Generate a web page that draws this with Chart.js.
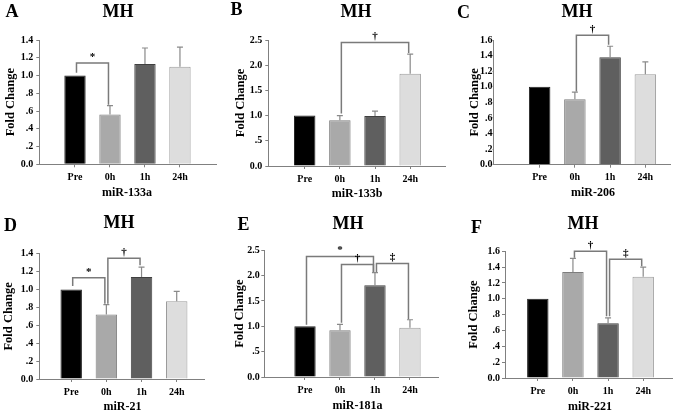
<!DOCTYPE html>
<html><head><meta charset="utf-8">
<script src="https://cdn.jsdelivr.net/npm/chart.js@4/dist/chart.umd.min.js"></script>
<style>
html,body{margin:0;padding:0;background:#fff;width:675px;height:414px;overflow:hidden;}
canvas.p{position:absolute;}
</style></head><body>
<script>
// ---------- DATA ----------
const categories = ['Pre', '0h', '1h', '24h'];
const letters = ['A', 'B', 'C', 'D', 'E', 'F'];
const panelTitle = 'MH';
const yAxisTitle = 'Fold Change';
const genes = ['miR-133a', 'miR-133b', 'miR-206', 'miR-21', 'miR-181a', 'miR-221'];

const meanA = [1.00, 0.56, 1.13, 1.10];
const errA  = [0, 0.10, 0.18, 0.22];
const meanB = [1.00, 0.91, 0.99, 1.83];
const errB  = [0, 0.09, 0.10, 0.39];
const meanC = [1.00, 0.84, 1.38, 1.16];
const errC  = [0, 0.09, 0.14, 0.16];
const meanD = [1.00, 0.72, 1.14, 0.87];
const errD  = [0, 0.11, 0.11, 0.11];
const meanE = [1.00, 0.92, 1.81, 0.97];
const errE  = [0, 0.12, 0.25, 0.16];
const meanF = [1.00, 1.34, 0.69, 1.28];
const errF  = [0, 0.17, 0.07, 0.12];

const ticks14 = ['0.0', '.2', '.4', '.6', '.8', '1.0', '1.2', '1.4'];
const ticks16 = ['0.0', '.2', '.4', '.6', '.8', '1.0', '1.2', '1.4', '1.6'];
const ticks25 = ['0.0', '.5', '1.0', '1.5', '2.0', '2.5'];

// significance brackets: [fromIndex, toIndex, level, leftLegEnd, rightLegEnd, symbol]
const sigA = [[0, 1, 1.14, 1.03, 0.67, '*']];
const sigB = [[1, 3, 2.45, 1.04, 2.24, '†']];
const sigC = [[1, 2, 1.66, 0.94, 1.54, '†']];
const sigD = [[0, 1, 1.13, 1.04, 0.84, '*'], [1, 2, 1.35, 0.84, 1.27, '†']];
const sigE = [[0, 2, 2.38, 1.03, 2.07, '*'], [1, 2, 2.22, 1.07, 2.07, '†'], [2, 3, 2.24, 2.07, 1.14, '‡']];
const sigF = [[1, 2, 1.60, 1.52, 0.78, '†'], [2, 3, 1.50, 0.78, 1.41, '‡']];

// ---------- STYLE / LAYOUT ----------
const barColors  = ['#000000', '#a9a9a9', '#5f5f5f', '#dddddd'];
const barBorders = ['#222222', '#7d7d7d', '#404040', '#9a9a9a'];
const FONT = "'Liberation Serif', 'Times New Roman', serif";
const axisColor = '#808080';

const panels = [
  {mean: meanA, err: errA, ticks: ticks14, ymax: 1.4, step: 0.2, sig: sigA, box: [0, 0],
   area: {l: 39.3, r: 216, t: 40, b: 164.3}, xmin: -0.02, xmax: 5.03, yPad: 3, yTick: 3,
   letterPos: [12, 12], titlePos: [118, 12], yTitleX: 11, xTitlePos: [127, 193]},
  {mean: meanB, err: errB, ticks: ticks25, ymax: 2.5, step: 0.5, sig: sigB, box: [225, 0],
   area: {l: 268.3, r: 445, t: 40, b: 166}, xmin: -0.035, xmax: 4.99, yPad: 3, yTick: 3,
   letterPos: [236.5, 10.5], titlePos: [356, 12.5], yTitleX: 241, xTitlePos: [357, 194]},
  {mean: meanC, err: errC, ticks: ticks16, ymax: 1.6, step: 0.2, sig: sigC, box: [450, 0],
   area: {l: 493.5, r: 670, t: 40, b: 164.7}, xmin: -0.31, xmax: 4.70, yPad: 0, yTick: 1,
   letterPos: [463.5, 13], titlePos: [577, 12.5], yTitleX: 474.5, xTitlePos: [593, 193]},
  {mean: meanD, err: errD, ticks: ticks14, ymax: 1.4, step: 0.2, sig: sigD, box: [0, 207],
   area: {l: 39.3, r: 204, t: 253.7, b: 379}, xmin: 0.093, xmax: 4.776, yPad: 3, yTick: 3,
   letterPos: [10.5, 226], titlePos: [119, 223], yTitleX: 8.5, xTitlePos: [122.5, 407]},
  {mean: meanE, err: errE, ticks: ticks25, ymax: 2.5, step: 0.5, sig: sigE, box: [225, 207],
   area: {l: 264.3, r: 438.3, t: 250.3, b: 377}, xmin: -0.163, xmax: 4.81, yPad: 1.5, yTick: 3,
   letterPos: [243.5, 225.5], titlePos: [348, 224.5], yTitleX: 239.5, xTitlePos: [357.5, 406]},
  {mean: meanF, err: errF, ticks: ticks16, ymax: 1.6, step: 0.2, sig: sigF, box: [450, 207],
   area: {l: 505, r: 672.7, t: 251.3, b: 378}, xmin: 0.066, xmax: 4.84, yPad: 2, yTick: 3,
   letterPos: [476.5, 228], titlePos: [583, 224.5], yTitleX: 474, xTitlePos: [590, 407]}
];

const W = 225, H = 207;

panels.forEach((p, k) => {
  const cv = document.createElement('canvas');
  cv.width = W; cv.height = H; cv.className = 'p';
  cv.style.left = p.box[0] + 'px'; cv.style.top = p.box[1] + 'px';
  cv.style.width = W + 'px'; cv.style.height = H + 'px';
  document.body.appendChild(cv);
  const L = p.area.l - p.box[0], R = p.area.r - p.box[0];
  const T = p.area.t - p.box[1], B = p.area.b - p.box[1];

  const deco = {
    id: 'deco' + k,
    afterDatasetsDraw(chart) {
      const ctx = chart.ctx, xs = chart.scales.x, ys = chart.scales.y;
      ctx.save();
      // error bars
      ctx.strokeStyle = '#8a8a8a'; ctx.lineWidth = 1.2;
      p.mean.forEach((m, i) => {
        if (!p.err[i]) return;
        const x = xs.getPixelForValue(i + 1);
        const y0 = ys.getPixelForValue(m), y1 = ys.getPixelForValue(m + p.err[i]);
        ctx.beginPath();
        ctx.moveTo(x, y0); ctx.lineTo(x, y1);
        ctx.moveTo(x - 3, y1); ctx.lineTo(x + 3, y1);
        ctx.stroke();
      });
      // significance brackets
      ctx.strokeStyle = '#7a7a7a'; ctx.lineWidth = 1.5;
      p.sig.forEach(s => {
        const xa = xs.getPixelForValue(s[0] + 1) + 1.5;
        const xb = xs.getPixelForValue(s[1] + 1) - 1.5;
        const yl = ys.getPixelForValue(s[2]);
        ctx.beginPath();
        ctx.moveTo(xa, ys.getPixelForValue(s[3]));
        ctx.lineTo(xa, yl); ctx.lineTo(xb, yl);
        ctx.lineTo(xb, ys.getPixelForValue(s[4]));
        ctx.stroke();
        ctx.fillStyle = '#000';
        ctx.font = 'bold 11px ' + FONT;
        ctx.textAlign = 'center'; ctx.textBaseline = 'bottom';
        ctx.fillText(s[5], (xa + xb) / 2, yl - 0.5);
      });
      ctx.restore();
    },
    afterDraw(chart) {
      const ctx = chart.ctx, ca = chart.chartArea;
      ctx.save();
      ctx.fillStyle = '#000';
      ctx.textAlign = 'center'; ctx.textBaseline = 'middle';
      ctx.font = 'bold 18px ' + FONT;
      ctx.fillText(letters[k], p.letterPos[0] - p.box[0], p.letterPos[1] - p.box[1]);
      ctx.fillText(panelTitle, p.titlePos[0] - p.box[0], p.titlePos[1] - p.box[1]);
      ctx.font = 'bold 12px ' + FONT;
      ctx.fillText(genes[k], p.xTitlePos[0] - p.box[0], p.xTitlePos[1] - p.box[1]);
      ctx.translate(p.yTitleX - p.box[0], (ca.top + ca.bottom) / 2);
      ctx.rotate(-Math.PI / 2);
      ctx.font = 'bold 12.5px ' + FONT;
      ctx.fillText(yAxisTitle, 0, 0);
      ctx.restore();
    }
  };

  new Chart(cv, {
    type: 'bar',
    data: {
      datasets: [{
        data: p.mean.map((v, i) => ({x: i + 1, y: v})),
        backgroundColor: barColors,
        borderColor: barBorders,
        borderWidth: 1,
        barPercentage: 0.61,
        categoryPercentage: 1
      }]
    },
    options: {
      responsive: false, animation: false, devicePixelRatio: 1,
      layout: {padding: {top: T, left: 0, right: W - R, bottom: 0}},
      plugins: {legend: {display: false}, tooltip: {enabled: false}, title: {display: false}},
      scales: {
        x: {
          type: 'linear', min: p.xmin, max: p.xmax, offset: false,
          afterBuildTicks: s => { s.ticks = categories.map((c, i) => ({value: i + 1})); },
          afterFit: s => { s.height = H - B; },
          ticks: {
            autoSkip: false, maxRotation: 0, padding: 4,
            callback: v => categories[Math.round(v) - 1] ?? '',
            font: {family: FONT, weight: 'bold', size: 10}, color: '#000'
          },
          grid: {offset: false, drawOnChartArea: false, drawTicks: true, tickLength: 3, color: axisColor},
          border: {color: axisColor, width: 1}
        },
        y: {
          min: 0, max: p.ymax,
          afterFit: s => { s.width = L; },
          ticks: {
            stepSize: p.step, padding: p.yPad,
            callback: v => p.ticks[Math.round(v / p.step)],
            font: {family: FONT, weight: 'bold', size: 10}, color: '#000'
          },
          grid: {drawOnChartArea: false, drawTicks: true, tickLength: p.yTick, color: axisColor},
          border: {color: axisColor, width: 1}
        }
      }
    },
    plugins: [deco]
  });
});
</script>
</body></html>
